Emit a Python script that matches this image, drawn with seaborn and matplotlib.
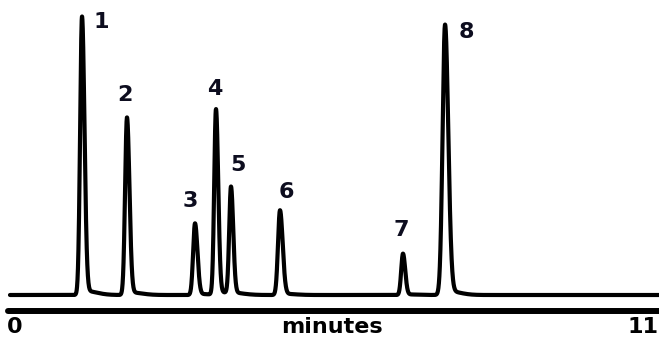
import numpy as np
import pandas as pd
import seaborn as sns
from matplotlib import pyplot as plt

# peak table
peak_labels = ["1", "2", "3", "4", "5", "6", "7", "8"]
retention_min = [1.233, 2.003, 3.168, 3.527, 3.784, 4.623, 6.729, 7.449]
peak_height = [276, 176, 71, 184, 106, 84, 41, 268]
sigma_front = [0.032, 0.032, 0.032, 0.030, 0.030, 0.034, 0.030, 0.042]
sigma_tail = [0.042, 0.042, 0.042, 0.038, 0.038, 0.046, 0.038, 0.055]

# label positions (minutes, signal)
label_x = [1.56, 1.97, 3.08, 3.51, 3.90, 4.74, 6.70, 7.81]
label_y = [273, 200, 94, 206, 130, 103, 65, 263]

tick_values = [0, 11]
x_label = "minutes"


def peak_shape(t, t0, h, s_front, s_tail):
    s = np.where(t < t0, s_front, s_tail)
    return h * np.exp(-0.5 * ((t - t0) / s) ** 2)


t = np.arange(0, 11.12, 0.002)
signal = np.zeros_like(t)
for t0, h, sf, st in zip(retention_min, peak_height, sigma_front, sigma_tail):
    signal += peak_shape(t, t0, h, sf, st)
    # small tailing back to baseline
    signal += peak_shape(t, t0 + 0.04, h * 0.015, 0.04, 0.2)

df = pd.DataFrame({"time": t, "signal": signal})

sns.set_style("white")
fig = plt.figure(figsize=(6.59, 3.38), dpi=100)
ax = fig.add_axes([8 / 659, 27 / 338, 651 / 659, 311 / 338])

sns.lineplot(data=df, x="time", y="signal", ax=ax, color="black",
             linewidth=3.0, estimator=None, sort=False)

ax.set_xlim(-0.034, 11.113)
ax.set_ylim(-16, 295)

for lab, lx, ly in zip(peak_labels, label_x, label_y):
    ax.text(lx, ly, lab, ha="center", va="center", fontsize=16,
            fontweight="bold", color="#0d0d1f")

sns.despine(ax=ax, left=True)
ax.spines["bottom"].set_linewidth(4.3)
ax.spines["bottom"].set_color("black")
ax.spines["bottom"].set_capstyle("round")
ax.set_yticks([])
ax.set_xticks([])
ax.set_xlabel("")
ax.set_ylabel("")

ax.annotate(str(tick_values[0]), xy=(tick_values[0], 0),
            xycoords=("data", "axes fraction"), xytext=(-2, -4),
            textcoords="offset points", ha="left", va="top", color="black",
            fontsize=16, fontweight="bold", annotation_clip=False)
ax.annotate(str(tick_values[1]), xy=(tick_values[1], 0),
            xycoords=("data", "axes fraction"), xytext=(-18, -4),
            textcoords="offset points", ha="left", va="top", color="black",
            fontsize=16, fontweight="bold", annotation_clip=False)
ax.annotate(x_label, xy=(0.497, 0), xycoords="axes fraction",
            xytext=(0, -4), textcoords="offset points", ha="center",
            va="top", color="black", fontsize=16, fontweight="bold",
            annotation_clip=False)

fig.savefig("out.png", dpi=100)
